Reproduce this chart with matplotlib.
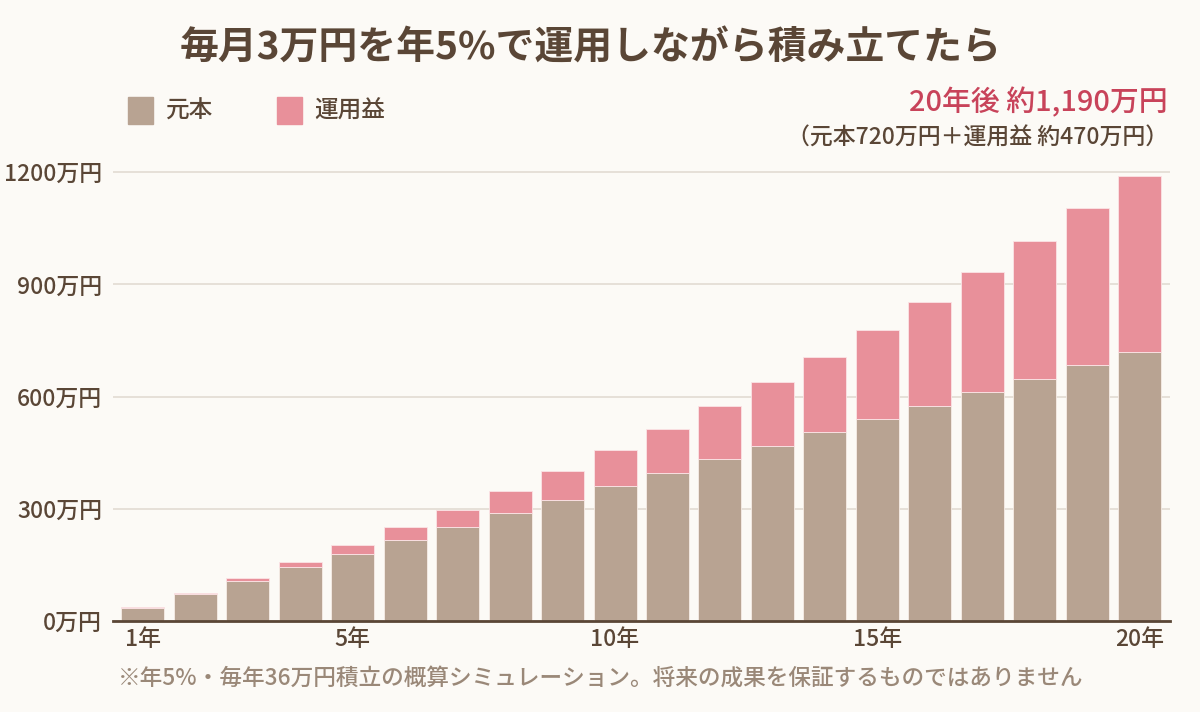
import matplotlib
matplotlib.use("Agg")
import matplotlib.pyplot as plt
import numpy as np

plt.rcParams['font.family'] = ['Noto Sans CJK JP', 'DejaVu Sans']

# data (万円)
years = list(range(1, 21))
principal = [36, 72, 108, 144, 180, 216, 252, 288, 324, 360,
             396, 432, 468, 504, 540, 576, 612, 648, 684, 720]
total = [37, 74, 116, 159, 204, 251, 297, 347, 400, 456,
         514, 575, 639, 707, 779, 854, 933, 1016, 1103, 1190]
gain = [t - p for t, p in zip(total, principal)]

yticks = [0, 300, 600, 900, 1200]
xtick_years = [1, 5, 10, 15, 20]

BG = '#fcfaf6'
TEXT = '#5a4636'
C_PRIN = '#b8a392'
C_GAIN = '#e8909a'

fig = plt.figure(figsize=(12, 7.12), dpi=100, facecolor=BG)
ax = fig.add_axes([0.0942, 0.1278, 0.975 - 0.0942, 0.7635 - 0.1278])
ax.set_facecolor(BG)

ax.bar(years, principal, width=0.82, color=C_PRIN, edgecolor='#f6ece6', linewidth=0.6, zorder=3)
ax.bar(years, gain, bottom=principal, width=0.82, color=C_GAIN, edgecolor='#fbe4e6', linewidth=0.6, zorder=3)

ax.set_xlim(0.43, 20.58)
ax.set_ylim(0, 1210)
ax.set_yticks(yticks)
ax.set_yticklabels([f'{v}万円' for v in yticks], fontsize=16.5, color=TEXT, fontweight='medium')
ax.set_xticks(xtick_years)
ax.set_xticklabels([f'{y}年' for y in xtick_years], fontsize=16.5, color=TEXT, fontweight='medium')
ax.tick_params(axis='both', length=0)
ax.tick_params(axis='y', pad=8)
ax.tick_params(axis='x', pad=5)
ax.grid(axis='y', color='#e2dbd3', linewidth=1.2, zorder=0)

for s in ['top', 'right', 'left']:
    ax.spines[s].set_visible(False)
ax.spines['bottom'].set_color(TEXT)
ax.spines['bottom'].set_linewidth(2)
ax.spines['bottom'].set_zorder(4)

# title
fig.text(0.492, 0.932, '毎月3万円を年5%で運用しながら積み立てたら', ha='center', va='center',
         fontsize=28, fontweight='bold', color=TEXT)

# legend
fig.patches.append(plt.Rectangle((128 / 1200, 1 - 124 / 712), 25 / 1200, 27 / 712,
                                 transform=fig.transFigure, color=C_PRIN))
fig.text(165 / 1200, 1 - 111 / 712, '元本', ha='left', va='center', fontsize=17,
         color=TEXT, fontweight='medium')
fig.patches.append(plt.Rectangle((277 / 1200, 1 - 124 / 712), 25 / 1200, 27 / 712,
                                 transform=fig.transFigure, color=C_GAIN))
fig.text(314 / 1200, 1 - 111 / 712, '運用益', ha='left', va='center', fontsize=17,
         color=TEXT, fontweight='medium')

# annotation
fig.text(1168 / 1200, 1 - 102 / 712, '20年後 約1,190万円', ha='right', va='center',
         fontsize=20.8, color='#c8435a', fontweight='medium')
fig.text(1168 / 1200, 1 - 138 / 712, '（元本720万円＋運用益 約470万円）', ha='right', va='center',
         fontsize=16.5, color=TEXT, fontweight='medium')

# footnote
fig.text(118 / 1200, 1 - 678 / 712,
         '※年5%・毎年36万円積立の概算シミュレーション。将来の成果を保証するものではありません',
         ha='left', va='center', fontsize=16.3, color='#9a8878', fontweight='medium')

plt.savefig('out.png', dpi=100, facecolor=BG)
